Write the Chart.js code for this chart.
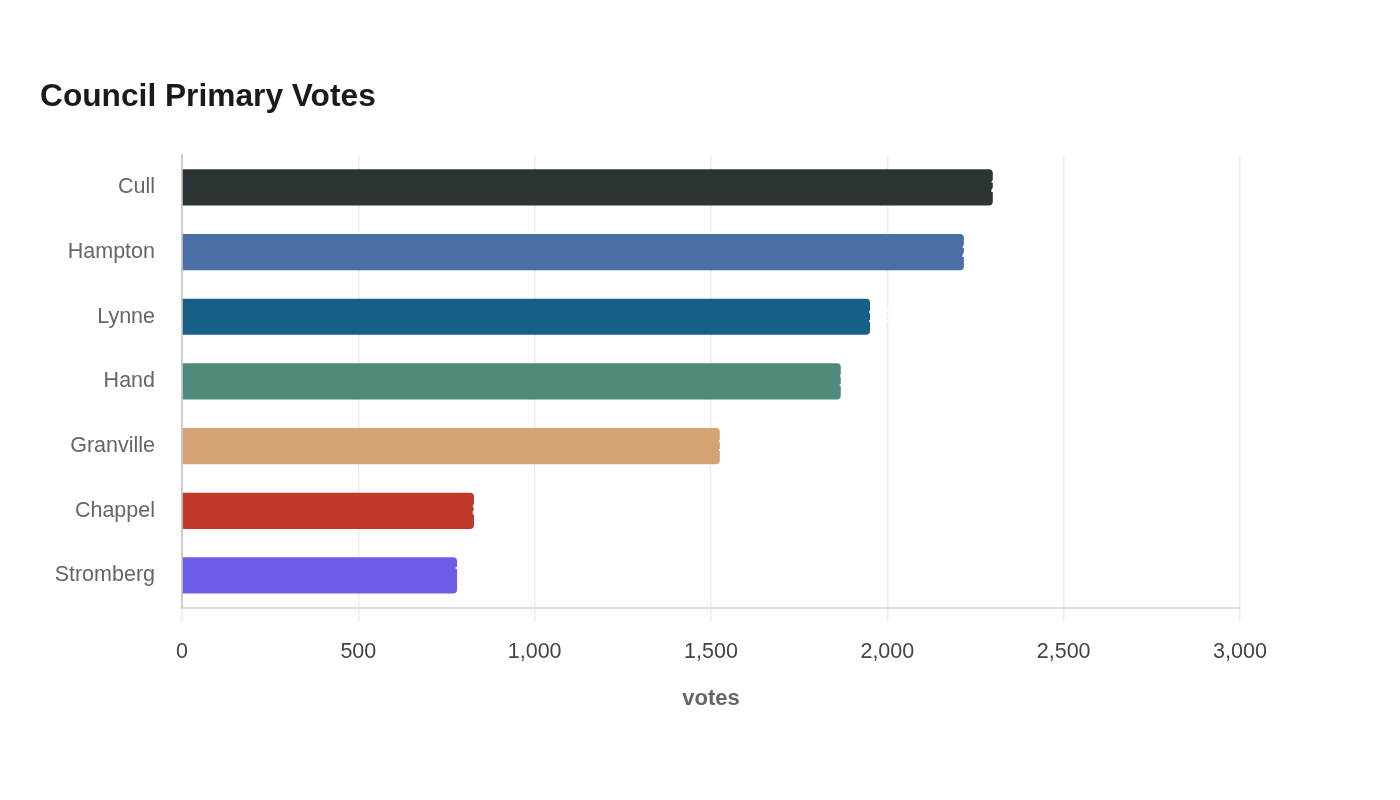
<!DOCTYPE html>
<html>
<head>
<meta charset="utf-8">
<script src="https://cdn.jsdelivr.net/npm/chart.js@4"></script>
<style>
  html, body { margin: 0; padding: 0; background: #fff; }
  #wrap { width: 1400px; height: 800px; }
</style>
</head>
<body>
<div id="wrap"><canvas id="votesChart" width="1400" height="800"></canvas></div>
<script>
// Candidates and primary votes
const candidates = ["Cull", "Hampton", "Lynne", "Hand", "Granville", "Chappel", "Stromberg"];
const votes = [2299, 2217, 1951, 1868, 1525, 828, 780];
const barColors = ["#2d3436", "#4a6fa5", "#166088", "#4f8a7a", "#d4a373", "#c0392b", "#6c5ce7"];
const xTicks = [0, 500, 1000, 1500, 2000, 2500, 3000];

// white value labels at the bar ends
const valueLabels = {
    id: "valueLabels",
    afterDatasetsDraw(chart) {
        const ctx = chart.ctx;
        const meta = chart.getDatasetMeta(0);
        ctx.save();
        ctx.font = "bold 18px 'Liberation Sans', Arial, sans-serif";
        ctx.fillStyle = "#ffffff";
        ctx.textAlign = "left";
        ctx.textBaseline = "middle";
        meta.data.forEach((bar, i) => {
            ctx.fillText(votes[i].toLocaleString("en-US"), bar.x - 2, bar.y);
        });
        ctx.restore();
    }
};

const ctx = document.getElementById("votesChart").getContext("2d");
new Chart(ctx, {
    type: "bar",
    data: {
        labels: candidates,
        datasets: [{
            label: "votes",
            data: votes,
            backgroundColor: barColors,
            borderRadius: 4,
            borderSkipped: "start",
            barPercentage: 0.56,
            categoryPercentage: 1
        }]
    },
    options: {
        indexAxis: "y",
        responsive: false,
        animation: false,
        layout: { padding: { left: 40, right: 160, top: 20, bottom: 84 } },
        plugins: {
            legend: { display: false },
            tooltip: { enabled: false },
            title: {
                display: true,
                text: "Council Primary Votes",
                align: "start",
                color: "#1a1a1a",
                font: { family: "'Liberation Sans', Arial, sans-serif", size: 31.7, weight: "bold" },
                padding: { top: 58, bottom: 39 }
            }
        },
        scales: {
            x: {
                min: 0,
                max: 3000,
                afterBuildTicks: axis => { axis.ticks = xTicks.map(v => ({ value: v })); },
                grid: { color: "#ececec", lineWidth: 1.5, tickLength: 14 },
                border: { color: "#dddddd", width: 2 },
                ticks: {
                    color: "#444",
                    padding: 17,
                    font: { family: "'Liberation Sans', Arial, sans-serif", size: 21.5 },
                    callback: v => v.toLocaleString("en-US")
                },
                title: {
                    display: true,
                    text: "votes",
                    color: "#666",
                    font: { family: "'Liberation Sans', Arial, sans-serif", size: 22, weight: "bold" },
                    padding: { top: 4 }
                }
            },
            y: {
                afterFit: axis => { axis.width = 142; },
                grid: { display: false },
                border: { color: "#cccccc", width: 2 },
                ticks: {
                    color: "#666",
                    padding: 19,
                    font: { family: "'Liberation Sans', Arial, sans-serif", size: 21.5 }
                }
            }
        }
    },
    plugins: [valueLabels]
});
</script>
</body>
</html>
